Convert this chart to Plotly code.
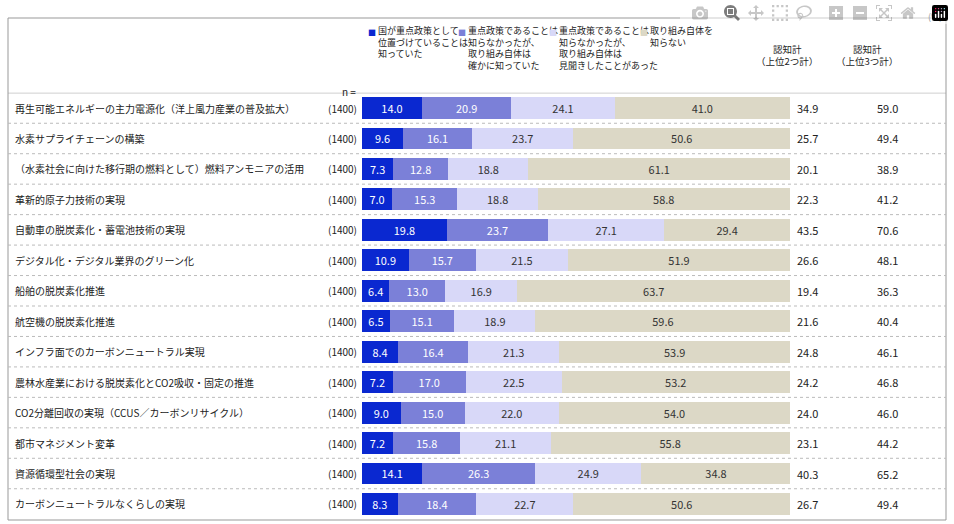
import plotly.graph_objects as go

items = ["再生可能エネルギーの主力電源化（洋上風力産業の普及拡大）","水素サプライチェーンの構築",
"（水素社会に向けた移行期の燃料として）燃料アンモニアの活用","革新的原子力技術の実現",
"自動車の脱炭素化・蓄電池技術の実現","デジタル化・デジタル業界のグリーン化","船舶の脱炭素化推進",
"航空機の脱炭素化推進","インフラ面でのカーボンニュートラル実現","農林水産業における脱炭素化とCO2吸収・固定の推進",
"CO2分離回収の実現（CCUS／カーボンリサイクル）","都市マネジメント変革","資源循環型社会の実現","カーボンニュートラルなくらしの実現"]
n = [1400]*14
s1 = [14.0,9.6,7.3,7.0,19.8,10.9,6.4,6.5,8.4,7.2,9.0,7.2,14.1,8.3]
s2 = [20.9,16.1,12.8,15.3,23.7,15.7,13.0,15.1,16.4,17.0,15.0,15.8,26.3,18.4]
s3 = [24.1,23.7,18.8,18.8,27.1,21.5,16.9,18.9,21.3,22.5,22.0,21.1,24.9,22.7]
s4 = [41.0,50.6,61.1,58.8,29.4,51.9,63.7,59.6,53.9,53.2,54.0,55.8,34.8,50.6]
top2 = [34.9,25.7,20.1,22.3,43.5,26.6,19.4,21.6,24.8,24.2,24.0,23.1,40.3,26.7]
top3 = [59.0,49.4,38.9,41.2,70.6,48.1,36.3,40.4,46.1,46.8,46.0,44.2,65.2,49.4]
names = ["国が重点政策として<br>位置づけていることは<br>知っていた","重点政策であることは<br>知らなかったが、<br>取り組み自体は<br>確かに知っていた",
"重点政策であることは<br>知らなかったが、<br>取り組み自体は<br>見聞きしたことがあった","取り組み自体を<br>知らない"]
colors = ["#0a28d0","#7b80d8","#d8d8f8","#dcd8c6"]
tcolors = ["white","white","#333","#333"]

W,H = 954,524
px = lambda x: x/W
py = lambda y: 1-y/H
F = "Noto Sans CJK JP"
fig = go.Figure()
ys = list(range(len(items)))
for vals,c,tc in zip([s1,s2,s3,s4],colors,tcolors):
    fig.add_bar(y=ys,x=vals,orientation="h",marker=dict(color=c,line_width=0),width=0.72,
                text=[f"{v:.1f}" for v in vals],textposition="inside",insidetextanchor="middle",textangle=0,
                textfont=dict(color=tc,size=11,family=F),showlegend=False)
ann=[]
for i,it in enumerate(items):
    ann.append(dict(x=px(13),y=i,xref="paper",yref="y",text=it,xanchor="left",showarrow=False,font=dict(size=10,color="#222",family=F)))
    ann.append(dict(x=px(359),y=i,xref="paper",yref="y",text=f"({n[i]})",xanchor="right",showarrow=False,font=dict(size=10,color="#222",family=F)))
    ann.append(dict(x=px(820),y=i,xref="paper",yref="y",text=f"{top2[i]:.1f}",showarrow=False,font=dict(size=11,color="#222",family=F)))
    ann.append(dict(x=px(900),y=i,xref="paper",yref="y",text=f"{top3[i]:.1f}",showarrow=False,font=dict(size=11,color="#222",family=F)))
hx=[368,458,549,640]
for x,nm,c in zip(hx,names,colors):
    ann.append(dict(x=px(x-2),y=py(25),xref="paper",yref="paper",text=f"<span style='color:{c}'>■</span>",xanchor="left",yanchor="top",showarrow=False,font=dict(size=8,family=F)))
    ann.append(dict(x=px(x+8),y=py(22),xref="paper",yref="paper",text=nm,xanchor="left",yanchor="top",align="left",showarrow=False,font=dict(size=9,color="#222",family=F)))
for x,t in [(820,"認知計<br>（上位2つ計）"),(900,"認知計<br>（上位3つ計）")]:
    ann.append(dict(x=px(x),y=py(40),xref="paper",yref="paper",text=t,yanchor="top",showarrow=False,font=dict(size=9.5,color="#222",family=F)))
ann.append(dict(x=px(358),y=py(82),xref="paper",yref="paper",text="n =",xanchor="right",showarrow=False,font=dict(size=10,color="#222",family=F)))
ann.append(dict(x=px(944),y=py(8),xref="paper",yref="paper",text="(%)",xanchor="right",showarrow=False,font=dict(size=9,color="#222",family=F)))
shapes=[dict(type="rect",xref="paper",yref="paper",x0=px(8),x1=px(946),y0=py(520),y1=py(18),line=dict(color="#999",width=1))]
for i in range(len(items)-1):
    shapes.append(dict(type="line",xref="paper",yref="y",x0=px(8),x1=px(946),y0=i+0.5,y1=i+0.5,line=dict(color="#bbb",width=1,dash="dot")))
shapes.append(dict(type="line",xref="paper",yref="y",x0=px(8),x1=px(946),y0=-0.5,y1=-0.5,line=dict(color="#999",width=1)))
fig.update_layout(width=W,height=H,margin=dict(l=0,r=0,t=0,b=0),barmode="stack",plot_bgcolor="white",paper_bgcolor="white",
    xaxis=dict(domain=[px(362),px(790)],range=[0,100],visible=False,fixedrange=True),
    yaxis=dict(domain=[py(519.2),py(92.8)],range=[13.5,-0.5],visible=False),
    annotations=ann,shapes=shapes,uniformtext=dict(minsize=8,mode="show"))
fig.write_html("out.html",post_script="document.body.style.margin='0';document.body.style.overflow='hidden';")
